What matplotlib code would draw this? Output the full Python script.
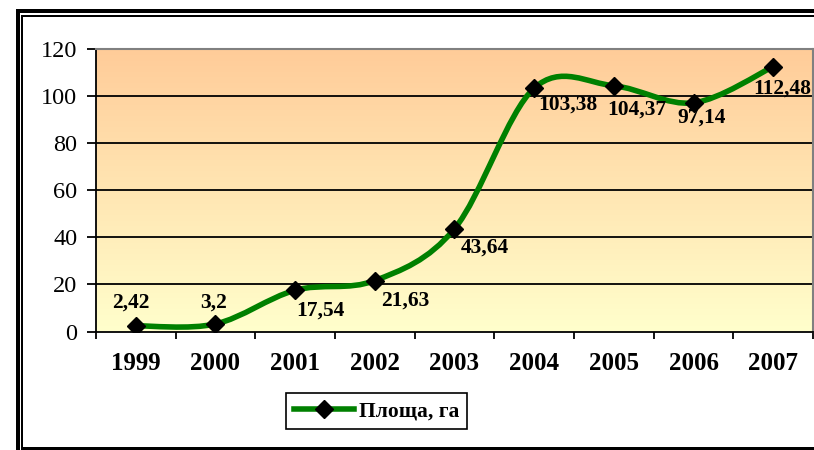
import numpy as np
import matplotlib
matplotlib.use('Agg')
import matplotlib.pyplot as plt
from matplotlib.path import Path
from matplotlib.patches import PathPatch, Rectangle
from matplotlib.colors import LinearSegmentedColormap
from matplotlib.lines import Line2D

# data
years = ['1999', '2000', '2001', '2002', '2003', '2004', '2005', '2006', '2007']
area = [2.42, 3.2, 17.54, 21.63, 43.64, 103.38, 104.37, 97.14, 112.48]
series_name = 'Площа, га'
y_ticks = [0, 20, 40, 60, 80, 100, 120]

W, H = 814, 450
plt.rcParams['font.family'] = ['Liberation Serif', 'DejaVu Serif']

fig = plt.figure(figsize=(W / 100, H / 100), dpi=100)
ax = fig.add_axes([96 / W, 1 - 331.5 / H, (813 - 96) / W, (331.5 - 49) / H])

x = np.arange(len(years))

# plot area gradient (light yellow at the bottom -> tan at the top)
cmap = LinearSegmentedColormap.from_list('bg', ['#FFFFCC', '#FFCC99'])
ax.imshow(np.linspace(0, 1, 256).reshape(-1, 1), extent=[0, 1, 0, 1],
          transform=ax.transAxes, cmap=cmap, aspect='auto', origin='lower', zorder=0)

ax.set_xlim(-0.5, len(years) - 0.5)
ax.set_ylim(0, 120)

for v in y_ticks[1:-1]:
    ax.axhline(v, color='black', lw=1.3, zorder=1)

# smoothed line, excel style (catmull-rom -> cubic bezier)
pts = np.column_stack([x, area]).astype(float)
verts = [pts[0]]
codes = [Path.MOVETO]
n = len(pts)
for i in range(n - 1):
    p_prev = pts[i - 1] if i > 0 else pts[i]
    p_next = pts[i + 2] if i + 2 < n else pts[i + 1]
    c1 = pts[i] + (pts[i + 1] - p_prev) / 6
    c2 = pts[i + 1] - (p_next - pts[i]) / 6
    verts += [c1, c2, pts[i + 1]]
    codes += [Path.CURVE4] * 3
ax.add_patch(PathPatch(Path(verts, codes), facecolor='none', edgecolor='#008000',
                       lw=4, capstyle='round', joinstyle='round', zorder=3))
ax.plot(x, area, linestyle='none', marker='D', ms=9, color='black', zorder=4)

# data labels
offsets = [(-5, 23), (-2, 21), (25, -20), (30, -20), (30, -19),
           (34, -16), (23, -24), (8, -15), (9, -22)]
for xi, v, off in zip(x, area, offsets):
    ax.annotate(f'{v:g}'.replace('.', ','), (xi, v), xytext=off, textcoords='offset pixels',
                ha='center', va='center', fontsize=15.5, fontweight='bold', zorder=5)

# axes styling
ax.set_yticks(y_ticks)
ax.tick_params(axis='y', length=6.5, width=1.3, pad=7, labelsize=17.5, color='black')
ax.set_xticks(np.arange(-0.5, len(years)), labels=[''] * (len(years) + 1))
ax.set_xticks(x, labels=years, minor=True)
ax.tick_params(axis='x', which='major', length=5, width=1.3, color='black')
ax.tick_params(axis='x', which='minor', length=0, pad=15, labelsize=18)
for lab in ax.get_xticklabels(minor=True):
    lab.set_fontweight('bold')
for s in ['left', 'bottom']:
    ax.spines[s].set_color('black')
    ax.spines[s].set_linewidth(1.3)
for s in ['top', 'right']:
    ax.spines[s].set_color('#808080')
    ax.spines[s].set_linewidth(1.5)

# legend
handle = Line2D([], [], color='#008000', lw=4, marker='D', ms=9,
                markerfacecolor='black', markeredgecolor='black')
leg = fig.legend([handle], [series_name], loc='center', bbox_to_anchor=(376.5 / W, 1 - 411 / H),
                 prop={'size': 15.5, 'weight': 'bold'}, handlelength=2.8, handletextpad=0.2,
                 borderpad=0.35, fancybox=False, framealpha=1, edgecolor='black')
leg.get_frame().set_linewidth(1.2)


# outer double frame (cropped on the right)
def frame_rect(x0, y0, w, h):
    fig.add_artist(Rectangle((x0 / W, 1 - (y0 + h) / H), w / W, h / H,
                             transform=fig.transFigure, color='black', lw=0))


frame_rect(16, 9.3, W - 16, 4)
frame_rect(21, 14.7, W - 21, 2)
frame_rect(16, 9.3, 4, H - 9.3)
frame_rect(21, 14.7, 2, H - 14.7)
frame_rect(21, 447, W - 21, 3)

fig.savefig('out.png', dpi=100)
